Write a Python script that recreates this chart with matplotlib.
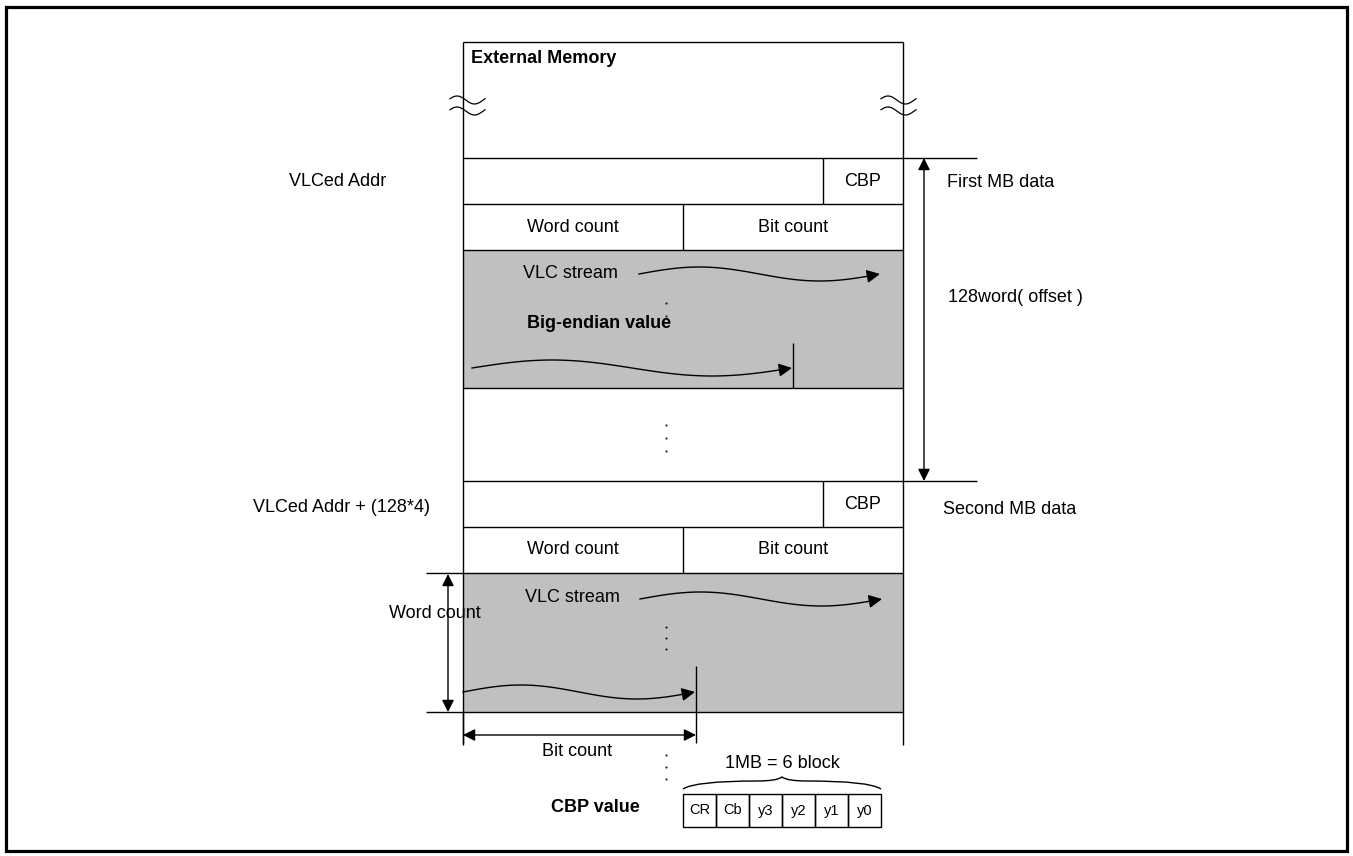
import numpy as np
import matplotlib.pyplot as plt
from matplotlib.patches import Rectangle
from matplotlib.path import Path
from matplotlib.patches import PathPatch

plt.rcParams['font.family'] = ['Liberation Sans', 'DejaVu Sans']

# memory map rows (top, bottom) in pixel units
row_edges = [158, 204, 250, 388, 481, 527, 573, 712]
cbp_labels = ['CR', 'Cb', 'y3', 'y2', 'y1', 'y0']
addr_labels = ['VLCed Addr', 'VLCed Addr + (128*4)']
mb_labels = ['First MB data', 'Second MB data']

W, H = 1353, 856
fig = plt.figure(figsize=(W / 100, H / 100), dpi=100)
ax = fig.add_axes([0, 0, 1, 1])
ax.set_xlim(0, W)
ax.set_ylim(H, 0)
ax.axis('off')

FS = 13
LW = 1.0
GRAY = '#c0c0c0'
XL, XR, XM, XC = 463, 903, 683, 823


def hline(y, x0, x1, lw=LW):
    ax.plot([x0, x1], [y, y], color='black', lw=lw, solid_capstyle='butt')


def vline(x, y0, y1, lw=LW):
    ax.plot([x, x], [y0, y1], color='black', lw=lw, solid_capstyle='butt')


def darrow(p0, p1):
    ax.annotate('', xy=p1, xytext=p0,
                arrowprops=dict(arrowstyle='<|-|>', color='black', lw=LW,
                                mutation_scale=18, shrinkA=0, shrinkB=0))


def wave(x0, x1, yc, amp, arrow=True):
    t = np.linspace(0, 1, 120)
    x = x0 + (x1 - x0) * t
    y = yc - amp * np.sin(2 * np.pi * t)
    ax.plot(x[:-4], y[:-4], color='black', lw=LW)
    if arrow:
        ax.annotate('', xy=(x[-1], y[-1]), xytext=(x[-5], y[-5]),
                    arrowprops=dict(arrowstyle='-|>', color='black', lw=LW,
                                    mutation_scale=20, shrinkA=0, shrinkB=0))


def dots(x, ys):
    ax.plot([x] * len(ys), ys, ls='none', marker='.', ms=1.0, color='black')


# outer frame
ax.add_patch(Rectangle((6, 7), 1341, 844, fill=False, lw=2.3, ec='black'))

# gray stream areas
ax.add_patch(Rectangle((XL, row_edges[2]), XR - XL, row_edges[3] - row_edges[2],
                       fc=GRAY, ec='none'))
ax.add_patch(Rectangle((XL, row_edges[6]), XR - XL, row_edges[7] - row_edges[6],
                       fc=GRAY, ec='none'))

# memory box
hline(42, XL, XR)
vline(XL, 42, 745)
vline(XR, 42, 745)
for y in row_edges:
    x0, x1 = XL, XR
    if y in (158, 481):
        x1 = 977
    if y in (573, 712):
        x0 = 426
    hline(y, x0, x1)
for top in (158, 481):
    vline(XC, top, top + 46)
    vline(XM, top + 46, top + 92)
    ax.text((XC + XR) / 2, top + 23, 'CBP', fontsize=FS, ha='center', va='center')
    ax.text((XL + XM) / 2, top + 69, 'Word count', fontsize=FS, ha='center', va='center')
    ax.text((XM + XR) / 2, top + 69, 'Bit count', fontsize=FS, ha='center', va='center')

ax.text(471, 58, 'External Memory', fontsize=FS, fontweight='bold', ha='left', va='center')

# break marks
for xc in (467, 898):
    for yc in (100, 111):
        t = np.linspace(0, 1, 40)
        ax.plot(xc - 17 + 35 * t, yc - 4 * np.sin(2 * np.pi * (t + 0.05)),
                color='black', lw=0.9)

# labels on left and right
ax.text(338, 181, addr_labels[0], fontsize=FS, ha='center', va='center')
ax.text(430, 508, addr_labels[1], fontsize=FS, ha='right', va='center')
ax.text(947, 182, mb_labels[0], fontsize=FS, ha='left', va='center')
ax.text(943, 509, mb_labels[1], fontsize=FS, ha='left', va='center')
ax.text(948, 297, '128word( offset )', fontsize=FS, ha='left', va='center')
darrow((924, 158), (924, 481))

# first stream block
ax.text(523, 273, 'VLC stream', fontsize=FS, ha='left', va='center')
wave(639, 880, 274, 7)
dots(666, [303, 316])
ax.text(527, 323, 'Big-endian value', fontsize=FS, fontweight='bold', ha='left', va='center')
wave(472, 792, 368, 8)
vline(793, 343, 388)
dots(666, [425, 438, 451])

# second stream block
ax.text(525, 597, 'VLC stream', fontsize=FS, ha='left', va='center')
wave(640, 882, 599, 7)
dots(666, [627, 638, 649])
wave(463, 695, 692, 7)
vline(696, 666, 743)
vline(XL, 712, 743)

darrow((448, 574), (448, 712))
ax.text(389, 613, 'Word count', fontsize=FS, ha='left', va='center')
darrow((463, 735), (696, 735))
ax.text(577, 751, 'Bit count', fontsize=FS, ha='center', va='center')
dots(666, [755, 767, 779])

# CBP value table
ax.text(782, 763, '1MB = 6 block', fontsize=FS, ha='center', va='center')
bx0, bx1, by = 683, 881, 789
bm = (bx0 + bx1) / 2
verts = [(bx0, by), (bx0 + 12, by - 8), (bm - 25, by - 8),
         (bm - 5, by - 8), (bm, by - 12),
         (bm + 5, by - 8), (bm + 25, by - 8),
         (bx1 - 12, by - 8), (bx1, by)]
codes = [Path.MOVETO, Path.CURVE3, Path.CURVE3, Path.CURVE3, Path.CURVE3,
         Path.CURVE3, Path.CURVE3, Path.CURVE3, Path.CURVE3]
ax.add_patch(PathPatch(Path(verts, codes), fill=False, lw=LW, ec='black'))

cw = (bx1 - bx0) / len(cbp_labels)
for i, lab in enumerate(cbp_labels):
    ax.add_patch(Rectangle((bx0 + i * cw, 794), cw, 33, fill=False, lw=LW, ec='black'))
    ax.text(bx0 + (i + 0.5) * cw, 810.5, lab, fontsize=10.5, ha='center', va='center')
ax.text(595, 808, 'CBP value', fontsize=FS, fontweight='bold', ha='center', va='center')

fig.savefig('out.png', dpi=100)
